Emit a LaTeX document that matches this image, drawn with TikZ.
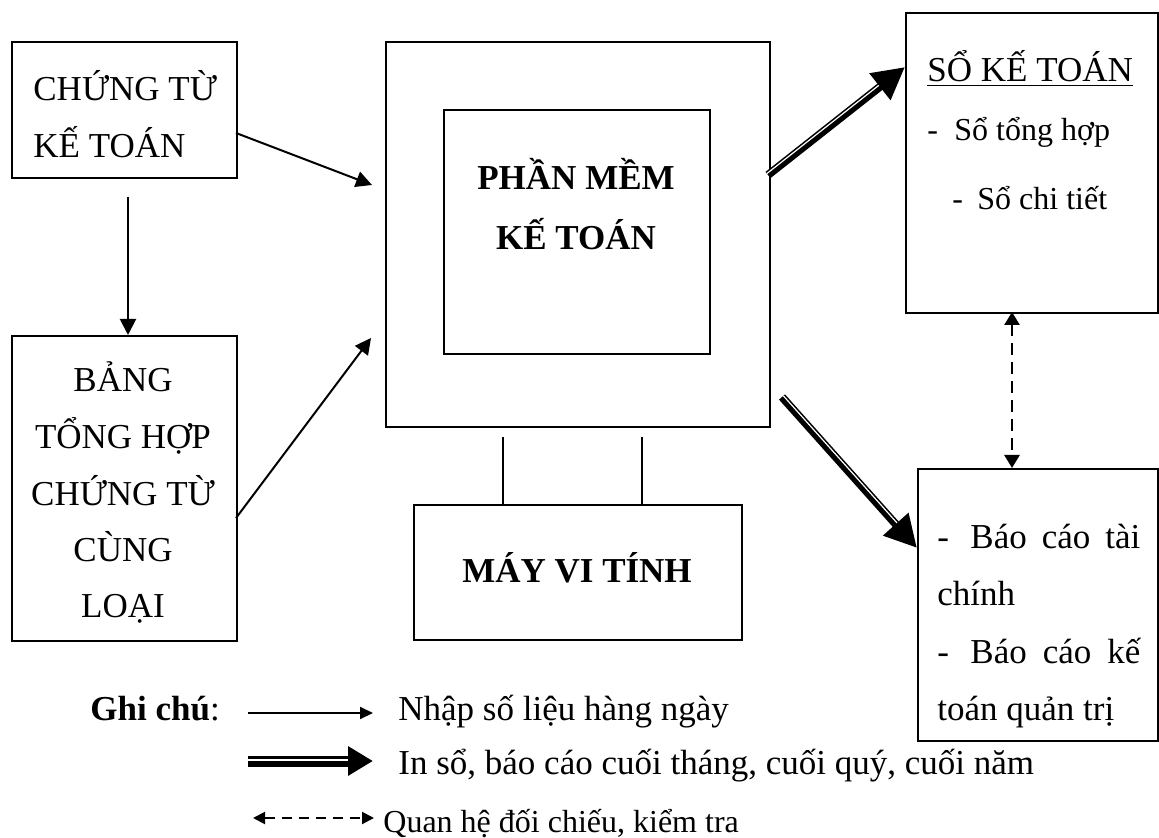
\documentclass[tikz,border=0pt]{standalone}
\usepackage{fontspec}
\setmainfont{Liberation Serif}
\usetikzlibrary{arrows.meta,calc}

% thick "print" arrow: black shaft with a thin white stripe set off to its left side
% #1 start, #2 end, #3 shaft width, #4 head length, #5 head width, #6 stripe offset, #7 stripe width
\newcommand\printarrow[7]{%
  \draw[line width=#3, -{Triangle[length=#4,width=#5]}] (#1) -- (#2);
  \path ($(#2)!#4!(#1)$) coordinate (pa@base);
  \draw[white, line width=#7] ($(#1)!#6!90:(#2)$) -- ($(pa@base)!#6!90:(#2)$);
}

\begin{document}
\begin{tikzpicture}[x=0.5pt,y=-0.5pt,
  box/.style={draw, line width=0.9pt, inner sep=0pt, anchor=north west},
  lbl/.style={inner sep=0pt, font=\fontsize{17.5}{21}\selectfont},
  slbl/.style={inner sep=0pt, font=\fontsize{16}{19}\selectfont},
  blbl/.style={inner sep=0pt, font=\fontsize{17.5}{21}\selectfont\bfseries},
  feed/.style={line width=1pt, -{Triangle[length=8pt,width=8pt]}},
  check/.style={line width=1.3pt, dash pattern=on 6pt off 3.5pt,
    {Triangle[length=6.5pt,width=7.5pt]}-{Triangle[length=6.5pt,width=7.5pt]}},
  link/.style={line width=0.9pt},
]
\useasboundingbox (0,0) rectangle (1159,838);

% boxes
\node[box, minimum width=112.5pt, minimum height=68pt]   (ct)    at (11,41)   {};
\node[box, minimum width=112.5pt, minimum height=152.5pt](bth)   at (11,335)  {};
\node[box, minimum width=192pt,   minimum height=192.5pt](outer) at (385,41)  {};
\node[box, minimum width=133pt,   minimum height=122pt]  (pm)    at (443,109) {};
\node[box, minimum width=164pt,   minimum height=67.5pt] (mvt)   at (413,504) {};
\node[box, minimum width=126pt,   minimum height=150pt]  (skt)   at (905,12)  {};
\node[box, minimum width=120pt,   minimum height=136pt]  (bc)    at (917,468) {};

% box texts
\node[lbl, anchor=base west] (ct1) at (33,101) {CHỨNG TỪ};
\node[lbl, anchor=base west] (ct2) at (33,158) {KẾ TOÁN};

\node[lbl, anchor=base] (b1) at (123,392) {BẢNG};
\node[lbl, anchor=base] (b2) at (123,449) {TỔNG HỢP};
\node[lbl, anchor=base] (b3) at (123,505) {CHỨNG TỪ};
\node[lbl, anchor=base] (b4) at (123,561) {CÙNG};
\node[lbl, anchor=base] (b5) at (123,617) {LOẠI};

\node[blbl, anchor=base] (pm1) at (576,190) {PHẦN MỀM};
\node[blbl, anchor=base] (pm2) at (576,250) {KẾ TOÁN};

\node[blbl, anchor=base] (mvt1) at (577,582) {MÁY VI TÍNH};

\node[lbl,  anchor=base west] (s0)  at (927,82)  {\underline{SỔ KẾ TOÁN}};
\node[slbl, anchor=base west] (s1d) at (927,141) {-};
\node[slbl, anchor=base west] (s1)  at (954,141) {Sổ tổng hợp};
\node[slbl, anchor=base west] (s2d) at (952,210) {-};
\node[slbl, anchor=base west] (s2)  at (977,210) {Sổ chi tiết};

\node[lbl, anchor=base west] (r1d) at (937,548) {-};
\node[lbl, anchor=base west] (r1)  at (970,548) {\makebox[85pt][s]{Báo cáo tài}};
\node[lbl, anchor=base west] (r2)  at (937,605) {chính};
\node[lbl, anchor=base west] (r3d) at (937,663) {-};
\node[lbl, anchor=base west] (r3)  at (970,663) {\makebox[85pt][s]{Báo cáo kế}};
\node[lbl, anchor=base west] (r4)  at (937,720) {toán quản trị};

% connector end points on the box borders
\coordinate (a1s) at (128,197);
\coordinate (a1e) at (128,335);
\coordinate (a2s) at (236,133);
\coordinate (a2e) at (372,185);
\coordinate (a3s) at (236,518);
\coordinate (a3e) at (371,338);
\coordinate (p1s) at (768,175);
\coordinate (p1e) at (905,67);
\coordinate (p2s) at (782,397);
\coordinate (p2e) at (917,548);
\coordinate (k1s) at (1012,312);
\coordinate (k1e) at (1012,468);
\coordinate (m1s) at (503,437);
\coordinate (m1e) at (503,504);
\coordinate (m2s) at (642,437);
\coordinate (m2e) at (642,504);

\draw[feed] (a1s) -- (a1e);
\draw[feed] (a2s) -- (a2e);
\draw[feed] (a3s) -- (a3e);
\printarrow{p1s}{p1e}{4pt}{16pt}{16pt}{0.9pt}{0.6pt}
\printarrow{p2s}{p2e}{4pt}{16pt}{16pt}{0.9pt}{0.6pt}
\draw[check] (k1s) -- (k1e);
\draw[link] (m1s) -- (m1e);
\draw[link] (m2s) -- (m2e);

% legend
\node[lbl, anchor=base west] (gc) at (90,720) {\textbf{Ghi chú}:};
\coordinate (l1s) at (248,713);
\coordinate (l1e) at (373,713);
\coordinate (l2s) at (248,761);
\coordinate (l2e) at (373,761);
\coordinate (l3s) at (253,818);
\coordinate (l3e) at (374,818);
\draw[line width=1pt, -{Triangle[length=6.5pt,width=6pt]}] (l1s) -- (l1e);
\printarrow{l2s}{l2e}{5.5pt}{12.5pt}{14pt}{0.6pt}{0.8pt}
\draw[line width=1pt, dash pattern=on 5pt off 3.5pt,
  {Triangle[length=6pt,width=6pt]}-{Triangle[length=6pt,width=6pt]}] (l3s) -- (l3e);
\node[lbl, anchor=base west] (n1) at (398,720) {Nhập số liệu hàng ngày};
\node[lbl, anchor=base west] (n2) at (398,774) {In sổ, báo cáo cuối tháng, cuối quý, cuối năm};
\node[slbl, anchor=base west] (n3) at (383,832) {Quan hệ đối chiếu, kiểm tra};
\end{tikzpicture}
\end{document}
